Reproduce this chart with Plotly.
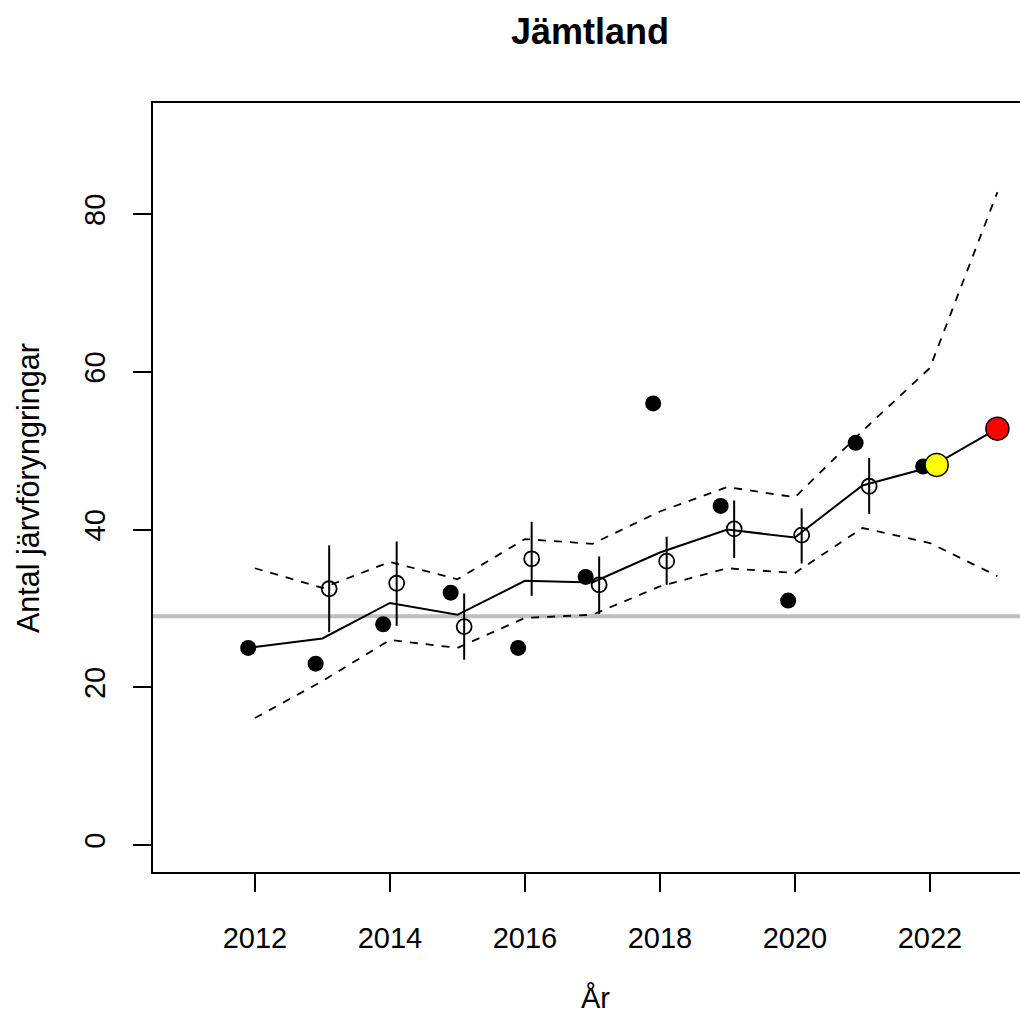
import plotly.graph_objects as go

# Observed counts (filled dots), plotted slightly left of the year
obs_years = [2012, 2013, 2014, 2015, 2016, 2017, 2018, 2019, 2020, 2021, 2022]
obs_values = [25, 23, 28, 32, 25, 34, 56, 43, 31, 51, 48]

# Estimates (open circles) with intervals, plotted slightly right of the year
est_years = [2013, 2014, 2015, 2016, 2017, 2018, 2019, 2020, 2021]
est_values = [32.5, 33.2, 27.7, 36.3, 33.0, 36.0, 40.1, 39.3, 45.5]
est_high = [38.0, 38.5, 31.9, 41.0, 36.6, 39.1, 43.7, 42.7, 49.1]
est_low = [27.0, 27.8, 23.5, 31.6, 29.3, 33.0, 36.4, 35.7, 42.0]

# Model trend and bounds
trend_years = [2012, 2013, 2014, 2015, 2016, 2017, 2018, 2019, 2020, 2021, 2022, 2023]
trend_mean = [25.1, 26.2, 30.7, 29.2, 33.5, 33.3, 37.1, 40.0, 39.0, 45.6, 47.9, 52.8]
trend_upper = [35.1, 32.6, 35.9, 33.7, 38.8, 38.2, 42.3, 45.4, 44.1, 52.5, 60.5, 82.8]
trend_lower = [16.1, 20.8, 26.0, 25.0, 28.8, 29.2, 32.8, 35.1, 34.5, 40.2, 38.3, 34.1]

# Highlighted points
yellow_year, yellow_value = 2022, 48.2
red_year, red_value = 2023, 52.8

reference_level = 29
x_ticks = [2012, 2014, 2016, 2018, 2020, 2022]
y_ticks = [0, 20, 40, 60, 80]

offset = 0.1
FONT = "Liberation Sans, Arial, Helvetica, sans-serif"

fig = go.Figure()

# gray reference line
fig.add_trace(go.Scatter(x=[2010.0, 2025.0], y=[reference_level, reference_level],
                         mode="lines", line=dict(color="#bebebe", width=4),
                         hoverinfo="skip", showlegend=False))

for series in (trend_upper, trend_lower):
    fig.add_trace(go.Scatter(x=trend_years, y=series, mode="lines",
                             line=dict(color="black", width=1.8, dash="8px,8px"),
                             showlegend=False))

fig.add_trace(go.Scatter(x=trend_years, y=trend_mean, mode="lines",
                         line=dict(color="black", width=2), showlegend=False))

# estimates with error bars
fig.add_trace(go.Scatter(
    x=[y + offset for y in est_years], y=est_values, mode="markers",
    marker=dict(symbol="circle-open", size=15, color="black", line=dict(width=1.8)),
    error_y=dict(type="data", symmetric=False,
                 array=[h - v for h, v in zip(est_high, est_values)],
                 arrayminus=[v - l for v, l in zip(est_values, est_low)],
                 width=0, thickness=2, color="black"),
    showlegend=False))

# observed
fig.add_trace(go.Scatter(x=[y - offset for y in obs_years], y=obs_values, mode="markers",
                         marker=dict(symbol="circle", size=16, color="black"),
                         showlegend=False))

fig.add_trace(go.Scatter(x=[yellow_year + offset], y=[yellow_value], mode="markers",
                         marker=dict(symbol="circle", size=23, color="#ffff00",
                                     line=dict(color="black", width=1.5)),
                         showlegend=False))
fig.add_trace(go.Scatter(x=[red_year], y=[red_value], mode="markers",
                         marker=dict(symbol="circle", size=23, color="#ff0000",
                                     line=dict(color="black", width=1.5)),
                         showlegend=False))

# Figure is wider than the window; the right part (as in the reference) is cut off
L, R, T, B = 153, 0, 103, 144
W, H = 1100, 1016
pw = W - L - R
ph = H - T - B

def px_x(px):
    return (px - L) / pw

def px_y(py):
    return (H - B - py) / ph

fig.update_layout(
    width=W, height=H,
    margin=dict(l=L, r=R, t=T, b=B, pad=0),
    paper_bgcolor="white", plot_bgcolor="white",
    font=dict(family=FONT, size=29, color="black"),
    xaxis=dict(range=[2010.49, 2024.52], tickvals=x_ticks, ticks="outside",
               ticklen=18, tickwidth=1.5, tickcolor="black",
               showline=True, linecolor="black", linewidth=2, mirror=True,
               showgrid=False, zeroline=False, ticklabelstandoff=21,
               tickfont=dict(size=29)),
    yaxis=dict(range=[-3.42, 94.1], tickvals=y_ticks, ticks="outside",
               ticklen=18, tickwidth=1.5, tickcolor="black",
               showline=True, linecolor="black", linewidth=2, mirror=False,
               showgrid=False, zeroline=False, tickangle=-90,
               ticklabelstandoff=16, tickfont=dict(size=29)),
    annotations=[
        dict(text="<b>Jämtland</b>", x=px_x(590), y=px_y(32), xref="paper", yref="paper",
             showarrow=False, font=dict(size=36), xanchor="center", yanchor="middle"),
        dict(text="År", x=px_x(595), y=px_y(998), xref="paper", yref="paper",
             showarrow=False, font=dict(size=29), xanchor="center", yanchor="middle"),
        dict(text="Antal järvföryngringar", x=px_x(28), y=px_y(488), xref="paper",
             yref="paper", showarrow=False, font=dict(size=30.5), textangle=-90,
             xanchor="center", yanchor="middle"),
    ],
)

fig.write_html(
    "out.html",
    config={"displayModeBar": False},
    post_script="document.body.style.margin='0';document.body.style.overflow='hidden';",
)
